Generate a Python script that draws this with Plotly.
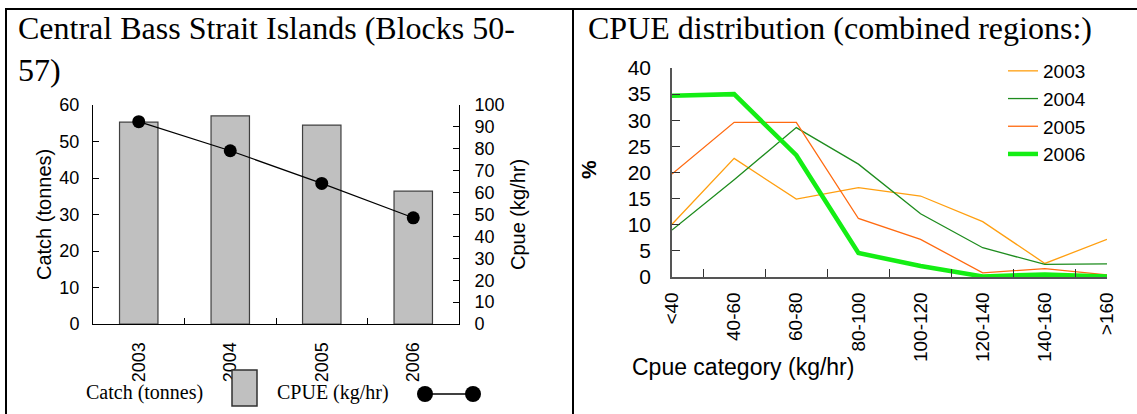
import plotly.graph_objects as go

W, H = 1137, 414

# ---- data ----
years = ["2003", "2004", "2005", "2006"]
catch_t = [55.3, 57.0, 54.5, 36.4]
cpue = [92.4, 79.1, 64.2, 48.5]

cpue_cats = ["<40", "40-60", "60-80", "80-100", "100-120", "120-140", "140-160", ">160"]
dist_2003 = [10.1, 22.7, 14.9, 17.1, 15.5, 10.6, 2.6, 7.2]
dist_2004 = [9.0, 18.6, 28.6, 21.6, 12.1, 5.6, 2.4, 2.5]
dist_2005 = [19.7, 29.6, 29.6, 11.2, 7.2, 0.8, 1.6, 0.4]
dist_2006 = [34.7, 35.0, 23.3, 4.6, 2.1, 0.1, 0.5, 0.1]
dist_names = ["2003", "2004", "2005", "2006"]


def px(x):
    return x / W


def py(y):
    return 1 - y / H


SANS = "Liberation Sans, Arial, sans-serif"
SERIF = "Liberation Serif, Times New Roman, serif"

fig = go.Figure()

# ---- left chart ----
fig.add_trace(go.Bar(
    x=years, y=catch_t, xaxis="x", yaxis="y",
    marker=dict(color="#C0C0C0", line=dict(color="#404040", width=1.2)),
    showlegend=False, name="Catch (tonnes)"))
fig.add_trace(go.Scatter(
    x=years, y=cpue, xaxis="x", yaxis="y2", mode="lines+markers",
    line=dict(color="black", width=1.2),
    marker=dict(color="black", size=13),
    showlegend=False, name="CPUE (kg/hr)", cliponaxis=False))

# ---- right chart ----
dist_colors = ["#FF9F10", "#1E8C1E", "#FF6A10", "#14EE14"]
dist_widths = [1.3, 1.3, 1.3, 4.5]
for name, vals, c, w in zip(dist_names, [dist_2003, dist_2004, dist_2005, dist_2006],
                            dist_colors, dist_widths):
    fig.add_trace(go.Scatter(
        x=cpue_cats, y=vals, xaxis="x3", yaxis="y3", mode="lines",
        line=dict(color=c, width=w), name=name, cliponaxis=False))

fig.update_layout(
    template="none",
    width=W, height=H, autosize=False,
    margin=dict(l=0, r=0, t=0, b=0, pad=0, autoexpand=False),
    paper_bgcolor="white", plot_bgcolor="white",
    font=dict(family=SANS, color="black"),
    bargap=0.58,
    showlegend=True,
    legend=dict(x=px(1003), y=py(52), xanchor="left", yanchor="top",
                bgcolor="rgba(0,0,0,0)", font=dict(size=19, family=SANS),
                itemwidth=30, tracegroupgap=0),
    xaxis=dict(domain=[px(93), px(459)], type="category", anchor="y", automargin=False,
               showline=True, linecolor="black", linewidth=1,
               ticks="inside", ticklen=6, tickcolor="black", tickson="boundaries",
               tickangle=-90, tickfont=dict(size=18), ticklabelstandoff=10,
               showgrid=False, zeroline=False),
    yaxis=dict(domain=[py(324), py(105)], range=[0, 60], dtick=10, automargin=False,
               showline=True, linecolor="black", linewidth=1,
               ticks="inside", ticklen=6, tickcolor="black",
               tickfont=dict(size=18), ticklabelstandoff=9,
               showgrid=False, zeroline=False),
    yaxis2=dict(overlaying="y", side="right", anchor="x", range=[0, 100], dtick=10,
                automargin=False,
                showline=True, linecolor="black", linewidth=1,
                ticks="inside", ticklen=6, tickcolor="black",
                tickfont=dict(size=18), ticklabelstandoff=11,
                showgrid=False, zeroline=False),
    xaxis3=dict(domain=[px(672), px(1107)], type="category", anchor="y3", automargin=False,
                showline=True, linecolor="#555555", linewidth=1.5,
                ticks="inside", ticklen=8, tickcolor="#333333", tickson="boundaries",
                tickangle=-90, tickfont=dict(size=19), ticklabelstandoff=6,
                showgrid=False, zeroline=False),
    yaxis3=dict(domain=[py(277), py(68)], range=[0, 40], dtick=5, anchor="x3",
                automargin=False,
                showline=True, linecolor="#555555", linewidth=1.5,
                ticks="inside", ticklen=8, tickcolor="#333333",
                tickfont=dict(size=21), ticklabelstandoff=15,
                showgrid=False, zeroline=False),
)

ann = []
# titles
ann.append(dict(text="Central Bass Strait Islands (Blocks 50-<br>57)", x=px(16), y=py(8),
                xanchor="left", yanchor="top", align="left", showarrow=False,
                xref="paper", yref="paper", font=dict(family=SERIF, size=32)))
ann.append(dict(text="CPUE distribution (combined regions:)", x=px(586), y=py(8),
                xanchor="left", yanchor="top", align="left", showarrow=False,
                xref="paper", yref="paper", font=dict(family=SERIF, size=32)))
# axis titles
ann.append(dict(text="Catch (tonnes)", x=px(44), y=py(215), textangle=-90,
                xanchor="center", yanchor="middle", showarrow=False,
                xref="paper", yref="paper", font=dict(size=20)))
ann.append(dict(text="Cpue (kg/hr)", x=px(518), y=py(215), textangle=-90,
                xanchor="center", yanchor="middle", showarrow=False,
                xref="paper", yref="paper", font=dict(size=20)))
ann.append(dict(text="<b>%</b>", x=px(588), y=py(170), textangle=-90,
                xanchor="center", yanchor="middle", showarrow=False,
                xref="paper", yref="paper", font=dict(size=21)))
ann.append(dict(text="Cpue category (kg/hr)", x=px(630), y=py(367),
                xanchor="left", yanchor="middle", showarrow=False,
                xref="paper", yref="paper", font=dict(size=23)))
# left custom legend texts
ann.append(dict(text="Catch (tonnes)", x=px(84), y=py(392),
                xanchor="left", yanchor="middle", showarrow=False,
                xref="paper", yref="paper", font=dict(family=SERIF, size=20)))
ann.append(dict(text="CPUE (kg/hr)", x=px(275), y=py(392),
                xanchor="left", yanchor="middle", showarrow=False,
                xref="paper", yref="paper", font=dict(family=SERIF, size=20)))

shapes = []
# frame lines
shapes.append(dict(type="line", xref="paper", yref="paper", x0=px(6), x1=px(6),
                   y0=py(9), y1=py(414), line=dict(color="black", width=2)))
shapes.append(dict(type="line", xref="paper", yref="paper", x0=px(5), x1=1,
                   y0=py(9), y1=py(9), line=dict(color="black", width=2)))
shapes.append(dict(type="line", xref="paper", yref="paper", x0=px(573), x1=px(573),
                   y0=py(9), y1=py(414), line=dict(color="black", width=2)))
# left legend symbols
shapes.append(dict(type="rect", xref="paper", yref="paper", x0=px(232), x1=px(257),
                   y0=py(406), y1=py(370), fillcolor="#C0C0C0",
                   line=dict(color="#303030", width=1.5)))
shapes.append(dict(type="line", xref="paper", yref="paper", x0=px(425), x1=px(473),
                   y0=py(394), y1=py(394), line=dict(color="black", width=1.5)))
for cx in (425, 473):
    shapes.append(dict(type="circle", xref="paper", yref="paper",
                       x0=px(cx - 8), x1=px(cx + 8), y0=py(402), y1=py(386),
                       fillcolor="black", line=dict(color="black", width=0)))

fig.update_layout(annotations=ann, shapes=shapes)

fig.write_html("out.html",
               config={"displayModeBar": False},
               post_script="document.body.style.margin='0px';"
                           "document.body.style.overflow='hidden';")
